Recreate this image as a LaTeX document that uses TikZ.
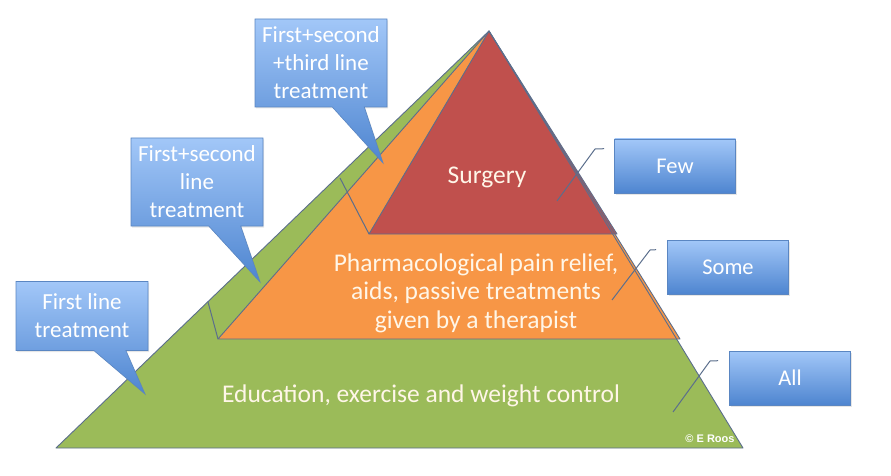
\documentclass[tikz,border=0pt]{standalone}
\usepackage{fontspec}
\setmainfont{Carlito}
\newfontfamily\markfont{Liberation Sans}
\usepackage{tikz}
\usetikzlibrary{shapes.callouts,shadows,positioning}
\usepackage{xcolor}
\definecolor{tierGreen}{HTML}{9BBB59}
\definecolor{tierOrange}{HTML}{F79646}
\definecolor{tierRed}{HTML}{C0504D}
\definecolor{noteTop}{HTML}{A2C7F8}
\definecolor{noteBottom}{HTML}{4E85D0}
\definecolor{noteEdge}{HTML}{5A86C2}
\definecolor{edgeGray}{HTML}{5B6E8C}
\definecolor{tierText}{HTML}{FFF6E8}

\begin{document}
\begin{tikzpicture}[
    x=1pt, y=-1pt,
    tier/.style={draw=edgeGray, line width=0.9pt, line join=round},
    label/.style={font=\fontsize{25.5}{28.5}\selectfont, text=tierText, align=center},
    note/.style={rectangle callout, draw=noteEdge, line width=0.6pt,
                 top color=noteTop, bottom color=noteBottom,
                 minimum width=132pt, minimum height=88pt, inner sep=1pt,
                 align=center, text=white, font=\fontsize{23}{28}\selectfont,
                 drop shadow={opacity=0.2, shadow xshift=1.2pt, shadow yshift=-1.5pt},
                 callout pointer width=32pt},
    count/.style={rectangle, draw=noteEdge, line width=0.6pt,
                  top color=noteTop, bottom color=noteBottom,
                  minimum width=121pt, minimum height=54pt,
                  text=white, font=\fontsize{22.5}{26}\selectfont,
                  drop shadow={opacity=0.2, shadow xshift=1.2pt, shadow yshift=-1.5pt}},
    leader/.style={draw=edgeGray, line width=1pt},
]
    \useasboundingbox (0,0) rectangle (891,476);

    \coordinate (apex) at (489,31);
    \coordinate (gl) at (56,448);
    \coordinate (gr) at (743,448);
    \coordinate (ol) at (218,339);
    \coordinate (or) at (680,339);
    \coordinate (rl) at (369,234);
    \coordinate (rr) at (617,234);

    \fill[tierGreen] (gl) -- (apex) -- (gr) -- cycle;
    \fill[tierOrange] (ol) -- (apex) -- (or) -- cycle;
    \fill[tierRed] (rl) -- (apex) -- (rr) -- cycle;
    \draw[tier] (gl) -- (apex) -- (gr) -- cycle;
    \draw[tier] (ol) -- (apex) -- (or) -- cycle;
    \draw[tier] (rl) -- (apex) -- (rr) -- cycle;

    \node[label] (surgery) at (487,177) {Surgery};
    \node[label] (pharma) at (476,293)
         {Pharmacological pain relief,\\aids, passive treatments\\given by a therapist};
    \node[label] (edu) at (421,396) {Education, exercise and weight control};
    \node[text=white, font=\markfont\bfseries\fontsize{11}{12}\selectfont]
         (roos) at (710,439) {\textcopyright\ E Roos};

    \coordinate (c1tip) at (383,163);
    \coordinate (c2tip) at (260,282);
    \coordinate (c3tip) at (145,394);
    \node[note, callout absolute pointer={(c1tip)}] (third) at (321,63)
         {First+second\\+third line\\treatment};
    \node[note, callout absolute pointer={(c2tip)}] (second) at (197,182)
         {First+second\\line\\treatment};
    \node[note, minimum height=69pt, callout absolute pointer={(c3tip)}] (first) at (82,316)
         {First line\\treatment};

    \coordinate (s1a) at (340,178);
    \coordinate (s2a) at (208,302);
    \draw[leader] (s1a) -- (rl);
    \draw[leader] (s2a) -- (ol);

    \node[count] (few) at (675,166) {Few};
    \node[count] (some) at (728,267) {Some};
    \node[count] (all) at (790,378) {All};

    \coordinate (fewbend) at (595,149);
    \coordinate (fewend) at (557,201);
    \coordinate (somebend) at (650,250);
    \coordinate (someend) at (612,300);
    \coordinate (allbend) at (710,361);
    \coordinate (allend) at (673,412);
    \draw[leader] ([xshift=-10pt,yshift=-10pt]few.north west) -- (fewbend) -- (fewend);
    \draw[leader] ([xshift=-11pt,yshift=-10pt]some.north west) -- (somebend) -- (someend);
    \draw[leader] ([xshift=-11pt,yshift=-10pt]all.north west) -- (allbend) -- (allend);
\end{tikzpicture}
\end{document}
